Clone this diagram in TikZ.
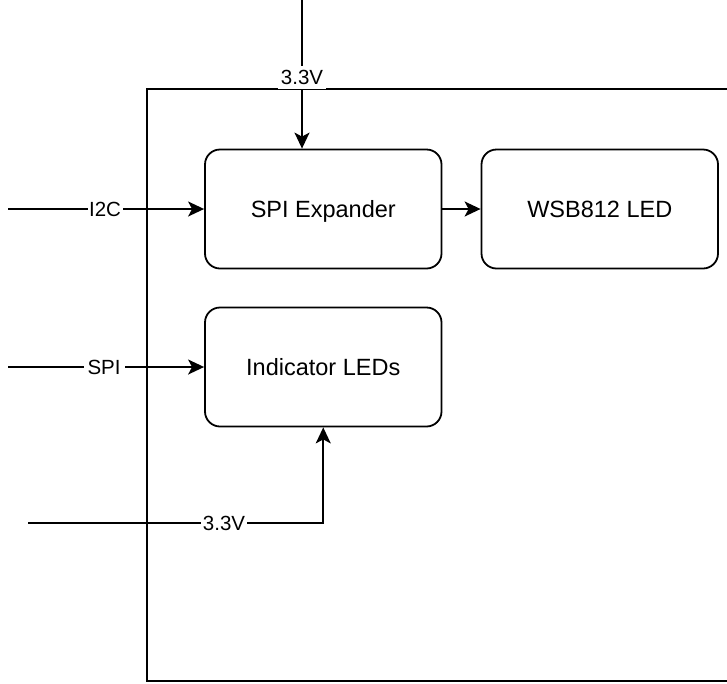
\documentclass[tikz,border=0pt]{standalone}
\usepackage{fontspec}
\setmainfont{Liberation Sans}
\usetikzlibrary{arrows.meta}
\begin{document}
\begin{tikzpicture}[x=1pt,y=-1pt,
  line width=1.8pt,
  block/.style={draw, rounded corners=15pt, minimum width=236.5pt, minimum height=119pt,
    inner sep=0pt, text height=17pt, text depth=0pt, font=\fontsize{23.5}{28}\selectfont},
  wire/.style={line width=1.8pt, -{Stealth[length=16pt,width=15pt,inset=4pt]}},
  lbl/.style={fill=white, inner xsep=3pt, inner ysep=4pt, text height=15pt, text depth=0pt,
    font=\fontsize{20.5}{24}\selectfont}]
\useasboundingbox (0,0) rectangle (727,683);
\fill[white] (0,0) rectangle (727,683);
% container
\draw (727,89) -- (147,89) -- (147,681) -- (727,681);
% blocks
\node[block] (spi) at (323.25,209) {SPI Expander};
\node[block] (wsb) at (599.75,209) {WSB812 LED};
\node[block] (ind) at (323.25,367) {Indicator LEDs};
% free ends
\coordinate (t0) at (302,0);
\coordinate (i0) at (8,209);
\coordinate (s0) at (8,367);
\coordinate (p0) at (28,523);
% connectors
\draw[wire] (t0) -- node[lbl, pos=0.52] {3.3V} (t0 |- spi.north);
\draw[wire] (i0) -- node[lbl, pos=0.495, inner xsep=1.5pt] {I2C} (spi.west);
\draw[wire] (s0) -- node[lbl, pos=0.49, inner xsep=4pt] {SPI} (ind.west);
\draw[wire] (p0) -| node[lbl, pos=0.332, inner xsep=1.5pt] {3.3V} (ind.south);
\draw[wire] (spi.east) -- (wsb.west);
\end{tikzpicture}
\end{document}
